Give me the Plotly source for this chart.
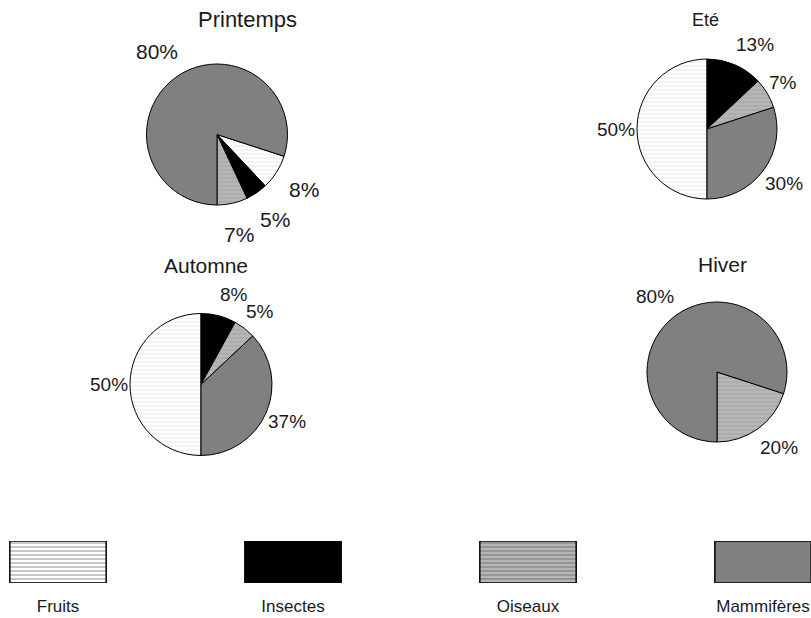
import math
import plotly.graph_objects as go

# ---- data ----
categories = ["Fruits", "Insectes", "Oiseaux", "Mammifères"]
seasons = ["Printemps", "Eté", "Automne", "Hiver"]
printemps = [8, 5, 7, 80]
ete = [50, 13, 7, 30]
automne = [50, 8, 5, 37]
hiver = [0, 0, 20, 80]
season_values = [printemps, ete, automne, hiver]
legend_swatch = [1, 1, 1, 1]

# ---- styles ----
W, H = 811, 618
fill_colors = ["#ffffff", "#000000", "#b6b6b6", "#808080"]
stripe_colors = ["#ececec", "#000000", "#a6a6a6", "#808080"]
stripe_shapes = ["-", "", "-", ""]
FONT = "Liberation Sans, Arial, sans-serif"
TXT = "#1a1a1a"

# pie layout: centre x, centre y (pixels from top), radius, start angle,
# label gaps beyond rim (gx, gy) and text-width push (k), label font size,
# title position and size
pie_layout = [
    dict(cx=217, cy=134.5, r=70.5, rot=108, gx=32, gy=32, k=0, fs=21,
         tx=247, ty=20, tfs=22),
    dict(cx=707, cy=129, r=70, rot=180, gx=1, gy=22, k=1, fs=19,
         tx=705, ty=20, tfs=18),
    dict(cx=201, cy=384.5, r=71, rot=180, gx=1, gy=22, k=1, fs=19,
         tx=206, ty=265, tfs=21),
    dict(cx=717, cy=372, r=70, rot=108, gx=1, gy=23, k=1, fs=19,
         tx=722, ty=264, tfs=21),
]

fig = go.Figure()
annotations = []
for name, vals, pl in zip(seasons, season_values, pie_layout):
    fig.add_trace(go.Pie(
        labels=categories,
        values=vals,
        textinfo="none",
        sort=False,
        direction="clockwise",
        rotation=pl["rot"],
        marker=dict(
            colors=fill_colors,
            line=dict(color="#000000", width=1),
            pattern=dict(shape=stripe_shapes, fgcolor=stripe_colors,
                         bgcolor=fill_colors, size=4, solidity=0.3),
        ),
        domain=dict(
            x=[(pl["cx"] - pl["r"]) / W, (pl["cx"] + pl["r"]) / W],
            y=[1 - (pl["cy"] + pl["r"]) / H, 1 - (pl["cy"] - pl["r"]) / H],
        ),
        showlegend=False,
        hoverinfo="skip",
        name=name,
    ))
    annotations.append(dict(
        text=name, x=pl["tx"] / W, y=1 - pl["ty"] / H, xref="paper", yref="paper",
        xanchor="center", yanchor="middle", showarrow=False,
        font=dict(family=FONT, size=pl["tfs"], color=TXT),
    ))
    # percentage labels placed outside each slice, along its mid angle
    total = sum(vals)
    start = pl["rot"]
    for v in vals:
        span = 360.0 * v / total
        if v:
            label = f"{v}%"
            mid = math.radians(start + span / 2)
            sx, cy_ = math.sin(mid), math.cos(mid)
            half_w = (0.556 * (len(label) - 1) + 0.889) * pl["fs"] / 2
            px = (pl["cx"] + (pl["r"] + pl["gx"]) * sx
                  + pl["k"] * math.copysign(half_w + 1, sx))
            py = pl["cy"] - (pl["r"] + pl["gy"]) * cy_
            annotations.append(dict(
                text=label, x=px / W, y=1 - py / H, xref="paper", yref="paper",
                xanchor="center", yanchor="middle", showarrow=False,
                font=dict(family=FONT, size=pl["fs"], color=TXT),
            ))
        start += span

# legend swatches drawn as a bar strip along the bottom
fig.add_trace(go.Bar(
    x=categories,
    y=legend_swatch,
    width=0.41,
    marker=dict(
        color=fill_colors,
        line=dict(color="#000000", width=1.5),
        pattern=dict(shape=stripe_shapes, fgcolor=stripe_colors,
                     bgcolor=fill_colors, size=4, solidity=0.3),
    ),
    showlegend=False,
    hoverinfo="skip",
    xaxis="x", yaxis="y",
))

fig.update_layout(
    width=W, height=H,
    margin=dict(l=0, r=0, t=0, b=0),
    paper_bgcolor="#ffffff",
    plot_bgcolor="rgba(0,0,0,0)",
    annotations=annotations,
    xaxis=dict(
        domain=[0, 1],
        range=[-58 / 235, 3 + 48 / 235],
        showgrid=False, zeroline=False, showline=False,
        ticks="outside", ticklen=8, tickcolor="rgba(0,0,0,0)",
        tickfont=dict(family=FONT, size=17, color=TXT),
        fixedrange=True,
    ),
    yaxis=dict(
        domain=[1 - 583 / H, 1 - 541 / H],
        range=[0, 1],
        showgrid=False, zeroline=False, showline=False,
        showticklabels=False, fixedrange=True,
    ),
)

fig.write_html("out.html", config={"displayModeBar": False},
               post_script="document.body.style.margin='0px';")
